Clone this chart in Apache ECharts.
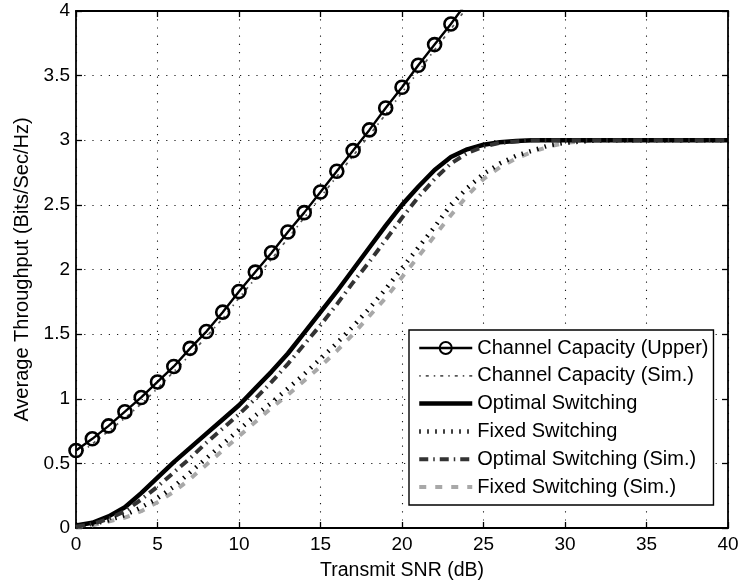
<!DOCTYPE html>
<html>
<head>
<meta charset="utf-8">
<script src="https://cdn.jsdelivr.net/npm/echarts@6/dist/echarts.min.js"></script>
<style>
  html, body { margin: 0; padding: 0; background: #fff; }
  #chart { width: 744px; height: 586px; }
</style>
</head>
<body>
<div id="chart"></div>
<script>
// Transmit SNR grid (dB)
const snr = [0,1,2,3,4,5,6,7,8,9,10,11,12,13,14,15,16,17,18,19,20,
             21,22,23,24,25,26,27,28,29,30,31,32,33,34,35,36,37,38,39,40];

// Average throughput (Bits/Sec/Hz) for each curve, one value per SNR point
const capacityUpper = [0.60,0.69,0.79,0.90,1.01,1.13,1.25,1.39,1.52,1.67,1.83,
                       1.98,2.13,2.29,2.44,2.60,2.76,2.92,3.08,3.25,3.41,3.58,3.74,3.90,4.07];
const capacitySim   = [0.56,0.65,0.75,0.85,0.96,1.08,1.21,1.34,1.48,1.62,1.78,
                       1.93,2.08,2.24,2.40,2.56,2.72,2.88,3.04,3.20,3.37,3.53,3.70,3.86,4.03];
const optimal       = [0.02,0.04,0.09,0.16,0.27,0.39,0.51,0.62,0.73,0.84,0.95,
                       1.08,1.21,1.35,1.51,1.67,1.83,2.00,2.17,2.34,2.50,
                       2.64,2.77,2.87,2.93,2.965,2.985,2.995,3,3,3,3,3,3,3,3,3,3,3,3,3];
const fixed         = [0.01,0.03,0.06,0.10,0.16,0.23,0.32,0.43,0.54,0.65,0.76,
                       0.87,0.97,1.08,1.19,1.31,1.43,1.56,1.70,1.85,2.01,
                       2.17,2.33,2.50,2.63,2.74,2.82,2.88,2.92,2.96,2.98,2.99,3,3,3,3,3,3,3,3,3];
const optimalSim    = [0.01,0.03,0.07,0.13,0.22,0.32,0.43,0.54,0.66,0.77,0.88,
                       1.00,1.13,1.27,1.42,1.57,1.73,1.90,2.06,2.23,2.40,
                       2.56,2.70,2.82,2.90,2.95,2.98,2.99,3,3,3,3,3,3,3,3,3,3,3,3,3];
const fixedSim      = [0.01,0.02,0.05,0.08,0.13,0.20,0.28,0.38,0.49,0.60,0.71,
                       0.82,0.93,1.03,1.14,1.25,1.37,1.50,1.64,1.78,1.94,
                       2.10,2.26,2.42,2.57,2.70,2.79,2.86,2.91,2.95,2.98,2.99,3,3,3,3,3,3,3,3,3];

// Legend / series names
const names = ['Channel Capacity (Upper)', 'Channel Capacity (Sim.)', 'Optimal Switching',
               'Fixed Switching', 'Optimal Switching (Sim.)', 'Fixed Switching (Sim.)'];

// Axis ticks
const xTicks = { min: 0, max: 40, interval: 5 };
const yTicks = { min: 0, max: 4, interval: 0.5 };

const pair = vals => vals.map((v, i) => [snr[i], v]);
const FONT = '"Liberation Sans", Arial, Helvetica, sans-serif';

// Line styles shared by each curve and its legend sample
const styles = [
  { color: '#000',    width: 2.4 },
  { color: '#555',    width: 1.7, type: [1.5, 5, 3, 5] },
  { color: '#000',    width: 4.5 },
  { color: '#000',    width: 4.5, type: [1.5, 6.5], cap: 'butt' },
  { color: '#333',    width: 4,   type: [9, 5, 1.5, 5], cap: 'butt' },
  { color: '#a8a8a8', width: 4,   type: [7, 9], cap: 'butt' }
];

const gridDots = { show: true, lineStyle: { color: '#1a1a1a', width: 1.1, type: [1.2, 7] } };
const frameLine = { show: true, onZero: false, lineStyle: { color: '#000', width: 1.8 } };
const innerTick = { show: true, inside: true, length: 6, lineStyle: { color: '#000', width: 1.3 } };

// Only the capacity curve carries a marker; hide the symbol in the other legend icons
const legendItems = names.map((n, i) => ({
  name: n,
  lineStyle: { width: styles[i].width },
  itemStyle: i === 0 ? {} : { opacity: 0 }
}));

const chart = echarts.init(document.getElementById('chart'), null, { renderer: 'canvas' });

chart.setOption({
  animation: false,
  backgroundColor: '#fff',
  textStyle: { fontFamily: FONT },
  grid: { left: 76, right: 16, top: 11, bottom: 58, containLabel: false },
  xAxis: [
    {
      type: 'value', position: 'bottom', ...xTicks,
      name: 'Transmit SNR (dB)', nameLocation: 'middle', nameGap: 33,
      nameTextStyle: { fontSize: 19.5, color: '#000', fontFamily: FONT },
      axisLine: frameLine, axisTick: innerTick,
      axisLabel: { fontSize: 19, color: '#000', margin: 7, fontFamily: FONT },
      splitLine: gridDots
    },
    {
      type: 'value', position: 'top', ...xTicks,
      axisLine: frameLine, axisTick: innerTick,
      axisLabel: { show: false }, splitLine: { show: false }
    }
  ],
  yAxis: [
    {
      type: 'value', position: 'left', ...yTicks,
      name: 'Average Throughput (Bits/Sec/Hz)', nameLocation: 'middle', nameGap: 38,
      nameTextStyle: { fontSize: 20, color: '#000', fontFamily: FONT },
      axisLine: frameLine, axisTick: innerTick,
      axisLabel: { fontSize: 19, color: '#000', margin: 6, fontFamily: FONT },
      splitLine: gridDots
    },
    {
      type: 'value', position: 'right', ...yTicks,
      axisLine: frameLine, axisTick: innerTick,
      axisLabel: { show: false }, splitLine: { show: false }
    }
  ],
  legend: {
    data: legendItems,
    orient: 'vertical',
    left: 409, top: 330,
    padding: [8, 5, 8, 8],
    itemWidth: 53, itemHeight: 15, itemGap: 7.8,
    backgroundColor: '#fff',
    borderColor: '#000', borderWidth: 1.4,
    textStyle: { fontSize: 20, lineHeight: 20, color: '#000', fontFamily: FONT }
  },
  series: [
    {
      name: names[0], type: 'line', data: pair(capacityUpper),
      symbol: 'circle', symbolSize: 13, showSymbol: true, z: 6,
      lineStyle: styles[0],
      itemStyle: { color: 'rgba(255,255,255,0)', borderColor: '#000', borderWidth: 2.6 }
    },
    {
      name: names[1], type: 'line', data: pair(capacitySim),
      symbol: 'none', z: 5, lineStyle: styles[1], itemStyle: { color: styles[1].color }
    },
    {
      name: names[2], type: 'line', data: pair(optimal),
      symbol: 'none', z: 4, lineStyle: styles[2], itemStyle: { color: styles[2].color }
    },
    {
      name: names[3], type: 'line', data: pair(fixed),
      symbol: 'none', z: 3, lineStyle: styles[3], itemStyle: { color: styles[3].color }
    },
    {
      name: names[4], type: 'line', data: pair(optimalSim),
      symbol: 'none', z: 5, lineStyle: styles[4], itemStyle: { color: styles[4].color }
    },
    {
      name: names[5], type: 'line', data: pair(fixedSim),
      symbol: 'none', z: 2, lineStyle: styles[5], itemStyle: { color: styles[5].color }
    }
  ]
});
</script>
</body>
</html>
